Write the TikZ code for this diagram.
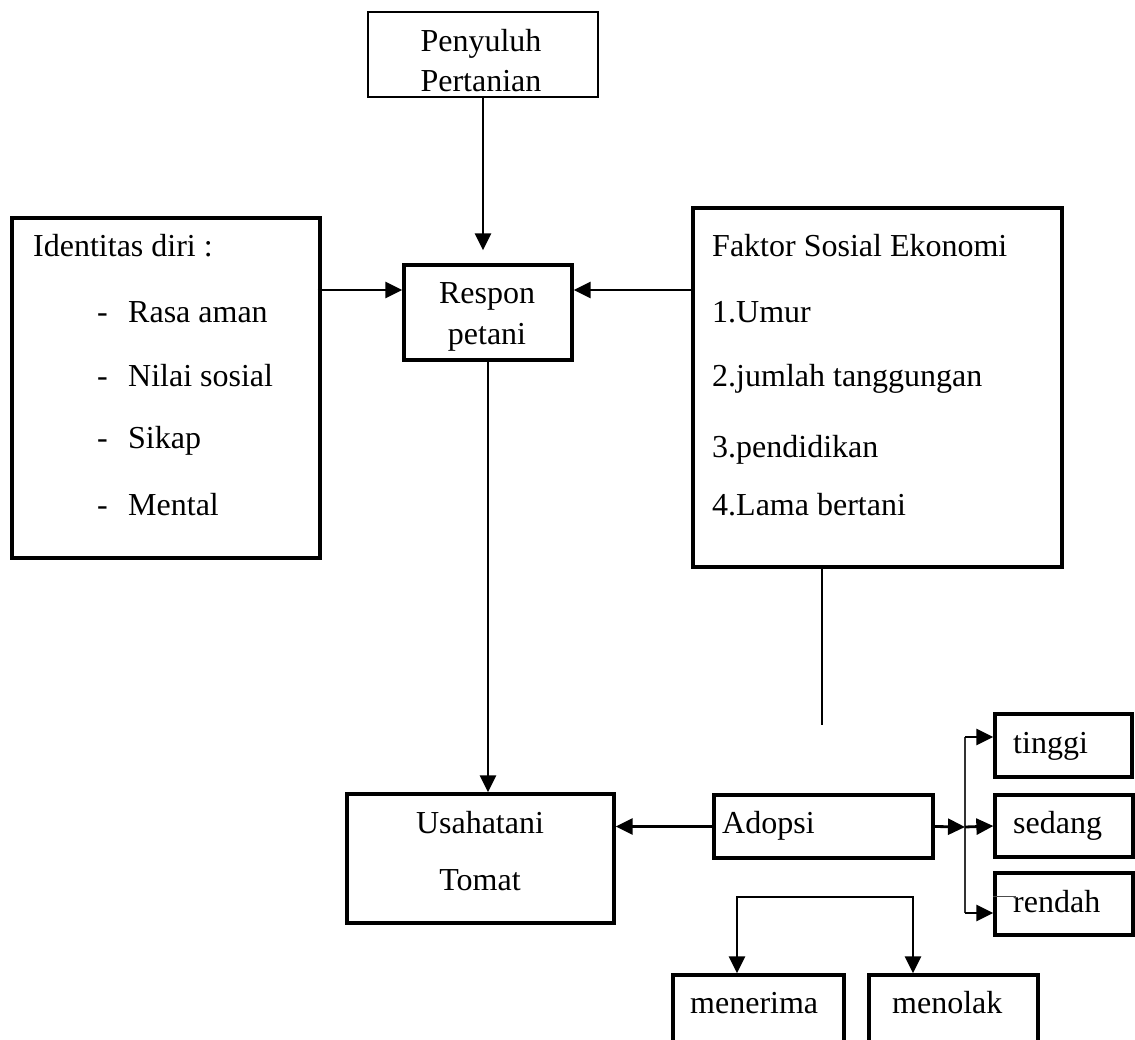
\documentclass[tikz,border=0pt]{standalone}
\usepackage{fontspec}
\setmainfont{Liberation Serif}
\usetikzlibrary{arrows.meta,positioning}

\begin{document}
\begin{tikzpicture}[x=1pt,y=-1pt,
 box/.style={draw,line width=3.3pt,inner sep=0pt},
 txt/.style={anchor=base,inner sep=0pt,font=\fontsize{32}{40}\selectfont},
 ltxt/.style={txt,anchor=base west},
 link/.style={line width=2.8pt},
 >={Triangle[length=17pt,width=16pt]}]
\useasboundingbox (0,0) rectangle (1135,1040);
% boxes
\node[box,line width=2.2pt,minimum width=230pt,minimum height=85pt] (pen) at (483,54.5) {};
\node[box,minimum width=168pt,minimum height=95pt] (resp) at (488,312.5) {};
\node[box,minimum width=308pt,minimum height=340pt] (ident) at (166,388) {};
\node[box,minimum width=369pt,minimum height=359pt] (faktor) at (877.5,387.5) {};
\node[box,minimum width=267pt,minimum height=129pt] (usaha) at (480.5,858.5) {};
\node[box,minimum width=219pt,minimum height=63pt] (adopsi) at (823.5,826.5) {};
\node[box,minimum width=137pt,minimum height=63pt] (tinggi) at (1063.5,745.5) {};
\node[box,minimum width=138pt,minimum height=62pt] (sedang) at (1064,826) {};
\node[box,minimum width=138pt,minimum height=62pt] (rendah) at (1064,904) {};
\node[box,minimum width=171pt,minimum height=86pt] (menerima) at (758.5,1018) {};
\node[box,minimum width=169pt,minimum height=86pt] (menolak) at (953.5,1018) {};
% texts
\node[txt] (penA) at (481,52) {Penyuluh};
\node[txt] (penB) at (481,92) {Pertanian};
\node[txt] (respA) at (487,304) {Respon};
\node[txt] (respB) at (487,345) {petani};
\node[txt] (usahaA) at (480,833) {Usahatani};
\node[txt] (usahaB) at (480,890) {Tomat};
\node[ltxt] (identT) at (33,257) {Identitas diri :};
\foreach \y/\t [count=\i] in {323/Rasa aman,387/Nilai sosial,448/Sikap,515/Mental} {
  \node[ltxt] (dash\i) at (97,\y) {-};
  \node[ltxt] (item\i) at (128,\y) {\t};
}
\foreach \y/\t [count=\i] in {257/Faktor Sosial Ekonomi,323/1.Umur,387/2.jumlah tanggungan,457/3.pendidikan,515/4.Lama bertani}
  \node[ltxt] (fak\i) at (712,\y) {\t};
\node[ltxt] (adopsiT) at (722,833) {Adopsi};
\node[ltxt] (tinggiT) at (1013,753) {tinggi};
\node[ltxt] (sedangT) at (1013,833) {sedang};
\node[ltxt] (rendahT) at (1013,912) {rendah};
\node[ltxt] (menerimaT) at (690,1013) {menerima};
\node[ltxt] (menolakT) at (892,1013) {menolak};
% connectors
\coordinate (rowA) at (0,290);
\coordinate (tail) at (822,725);
\coordinate (fork) at (965,827);
\coordinate (forkT) at (965,737);
\coordinate (forkB) at (965,913);
\coordinate (splitL) at (737,897);
\coordinate (splitR) at (913,897);
\draw[link,->,shorten >=13pt] (pen.south) -- (pen.south |- resp.north);
\draw[link,->] ([xshift=-4pt]ident.east |- rowA) -- (resp.west |- rowA);
\draw[link,->] (faktor.west |- rowA) -- (resp.east |- rowA);
\draw[link] (faktor.south -| tail) -- (tail);
\draw[link,->] (resp.south) -- (resp.south |- usaha.north);
\draw[link,->] (adopsi.west) -- (adopsi.west -| usaha.east);
\draw[link,->] (adopsi.east) -- (fork);
\draw[line width=2pt,black!80] (forkT) -- (forkB);
\draw[link,->] (forkT) -- (forkT -| tinggi.west);
\draw[link,->] (fork) -- (sedang.west);
\draw[link,->] (forkB) -- (forkB -| rendah.west);
\draw[line width=1.5pt,black!70] ([yshift=-25pt]rendah.north west) -- ++(23,0);
\draw[link,<->] (splitL |- menerima.north) -- (splitL) -- (splitR) -- (splitR |- menolak.north);
\end{tikzpicture}
\end{document}
